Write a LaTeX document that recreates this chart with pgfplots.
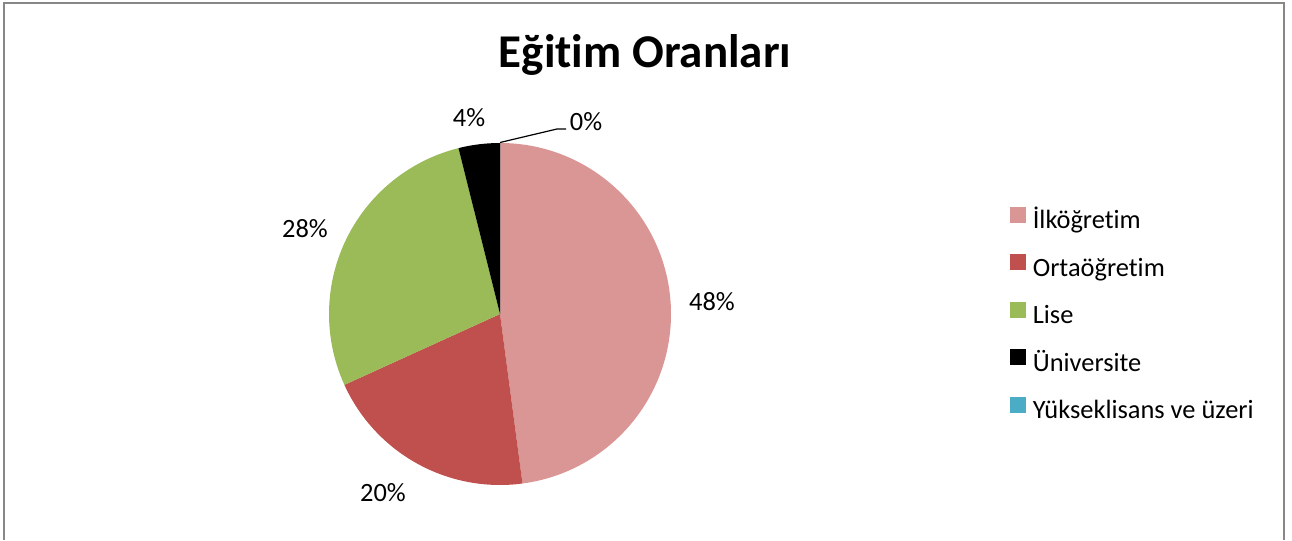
\documentclass[border=0pt]{standalone}
\usepackage{fontspec}
\setmainfont{Carlito}[Ligatures=NoCommon]
\usepackage{pgfplots}
\usepackage{pgfplotstable}
\pgfplotsset{compat=1.18}

\definecolor{ilk}{HTML}{D99694}
\definecolor{orta}{HTML}{C0504D}
\definecolor{lise}{HTML}{9BBB59}
\definecolor{uni}{HTML}{000000}
\definecolor{yuksek}{HTML}{4BACC6}

% pay: yüzde (saat yönünde, tepeden başlayarak)
\pgfplotstableread[col sep=comma]{
ad,pay,renk
İlköğretim,47.9,ilk
Ortaöğretim,20.3,orta
Lise,27.9,lise
Üniversite,3.9,uni
Yükseklisans ve üzeri,0.0,yuksek
}\egitim

\newcommand{\yazi}{\fontsize{13.2}{15}\selectfont}

\begin{document}
\begin{tikzpicture}
\begin{axis}[
    x=0.5pt, y=0.5pt,
    xmin=0, xmax=1292, ymin=0, ymax=540,
    scale only axis,
    hide axis,
    clip=false,
    legend cell align=left,
    legend style={
        draw=none, fill=none, inner sep=0pt, outer sep=0pt,
        at={(axis cs:1010,333)}, anchor=north west,
        font=\yazi,
        row sep=10.2pt,
        nodes={inner sep=0pt, text height=8.5pt, text depth=2.5pt},
        /tikz/every odd column/.append style={column sep=3.5pt},
    },
]
\path (axis cs:0,0) rectangle (axis cs:1292,540);
\draw[draw=black!47, line width=1pt] (axis cs:4,0) -- (axis cs:4,537) -- (axis cs:1284,537) -- (axis cs:1284,0);

\pgfplotstablegetrowsof{\egitim}
\pgfmathtruncatemacro{\son}{\pgfplotsretval-1}
\xdef\aci{90}
\pgfplotsforeachungrouped \i in {0,...,\son}{%
  \pgfplotstablegetelem{\i}{pay}\of\egitim \let\pay\pgfplotsretval
  \pgfplotstablegetelem{\i}{renk}\of\egitim \let\renk\pgfplotsretval
  \pgfplotstablegetelem{\i}{ad}\of\egitim \let\ad\pgfplotsretval
  \pgfmathsetmacro{\bitis}{\aci-3.6*\pay}%
  \edef\dilim{%
    \noexpand\fill[\renk] (axis cs:500,226) -- (axis cs:{500+171*cos(\aci)},{226+171*sin(\aci)})
      arc[start angle=\aci, end angle=\bitis, radius=85.5pt] -- cycle;
    \noexpand\addlegendimage{legend image code/.code={\noexpand\fill[\renk] (0pt,0.3pt) rectangle (7.5pt,7.8pt);}}
    \noexpand\addlegendentry{\ad}%
  }%
  \dilim
  \xdef\aci{\bitis}%
}

\node[font=\fontsize{23.5}{28}\selectfont\bfseries] at (axis cs:645,485) {Eğitim Oranları};
\node[font=\yazi] at (axis cs:712,238) {48\%};
\node[font=\yazi] at (axis cs:383,47) {20\%};
\node[font=\yazi] at (axis cs:305,311) {28\%};
\node[font=\yazi] at (axis cs:469,422) {4\%};
\node[font=\yazi] at (axis cs:586,418) {0\%};
\draw[line width=0.6pt] (axis cs:500,397.5) -- (axis cs:557,411) -- (axis cs:566,411);
\end{axis}
\end{tikzpicture}
\end{document}
